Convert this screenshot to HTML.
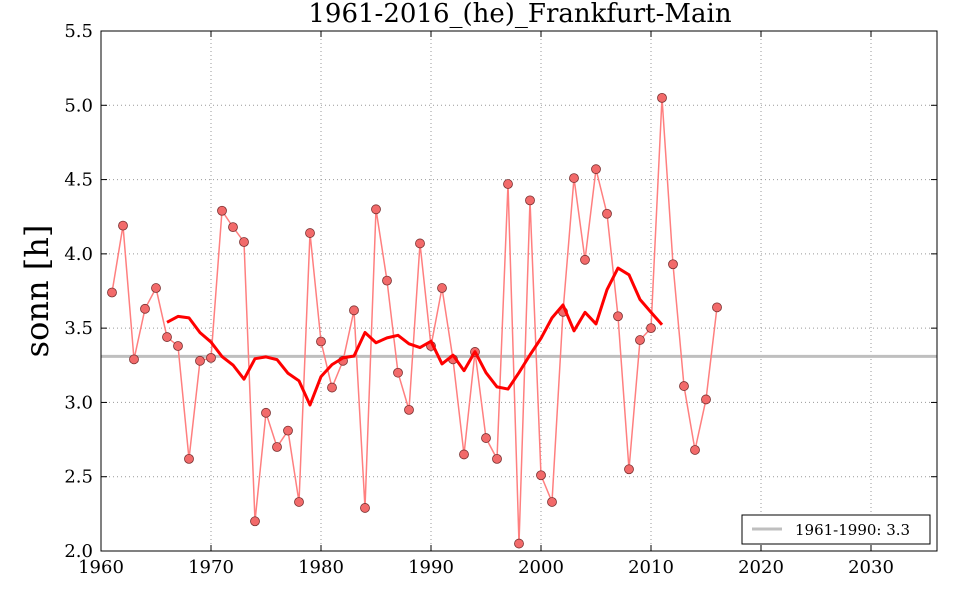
<!DOCTYPE html>
<html><head><meta charset="utf-8"><style>
body{margin:0;background:#fff}
svg text{font-family:"DejaVu Serif","Liberation Serif",serif;fill:#000}
</style></head><body>
<svg id="s" width="960" height="600" xmlns="http://www.w3.org/2000/svg"></svg>
<script>
const d=[3.74,4.19,3.29,3.63,3.77,3.44,3.38,2.62,3.28,3.30,4.29,4.18,4.08,2.20,2.93,2.70,2.81,2.33,4.14,3.41,3.10,3.28,3.62,2.29,4.30,3.82,3.20,2.95,4.07,3.38,3.77,3.29,2.65,3.34,2.76,2.62,4.47,2.05,4.36,2.51,2.33,3.61,4.51,3.96,4.57,4.27,3.58,2.55,3.42,3.50,5.05,3.93,3.11,2.68,3.02,3.64];
const X=y=>101+(y-1960)*11, Y=v=>551-(v-2)*148.57;
let h='';
// grid
for(let y=1970;y<=2030;y+=10)h+=`<line x1="${X(y)}" y1="31" x2="${X(y)}" y2="551" stroke="#999" stroke-dasharray="1,3"/>`;
for(let v=2.5;v<5.5;v+=0.5)h+=`<line x1="101" y1="${Y(v)}" x2="937" y2="${Y(v)}" stroke="#999" stroke-dasharray="1,3"/>`;
// baseline
h+=`<line x1="101" y1="${Y(3.31)}" x2="937" y2="${Y(3.31)}" stroke="#bfbfbf" stroke-width="3"/>`;
// data
let p=d.map((v,i)=>X(1961+i)+','+Y(v)).join(' ');
h+=`<polyline points="${p}" fill="none" stroke="#ff7f7f" stroke-width="1.5"/>`;
d.forEach((v,i)=>h+=`<circle cx="${X(1961+i)}" cy="${Y(v)}" r="4.5" fill="#f26a6a" stroke="#7a3030" stroke-width="0.8"/>`);
// moving average
let m=[];for(let i=5;i<d.length-5;i++){let s=0;for(let k=-5;k<=5;k++)s+=d[i+k];m.push(X(1961+i)+','+Y(s/11));}
h+=`<polyline points="${m.join(' ')}" fill="none" stroke="#ff0000" stroke-width="3" stroke-linejoin="round"/>`;
// frame
h+=`<rect x="101" y="31" width="836" height="520" fill="none" stroke="#000" stroke-width="1"/>`;
// ticks
for(let y=1960;y<=2035;y+=10){h+=`<line x1="${X(y)}" y1="551" x2="${X(y)}" y2="545" stroke="#000"/><line x1="${X(y)}" y1="31" x2="${X(y)}" y2="37" stroke="#000"/><text x="${X(y)}" y="573" font-size="18" text-anchor="middle">${y}</text>`;}
for(let v=2;v<=5.5;v+=0.5){h+=`<line x1="101" y1="${Y(v)}" x2="107" y2="${Y(v)}" stroke="#000"/><line x1="937" y1="${Y(v)}" x2="931" y2="${Y(v)}" stroke="#000"/><text x="93" y="${Y(v)+6}" font-size="18" text-anchor="end">${v.toFixed(1)}</text>`;}
h+=`<text x="520" y="22" font-size="26" text-anchor="middle">1961-2016_(he)_Frankfurt-Main</text>`;
h+=`<text transform="translate(48,291) rotate(-90)" font-size="32" text-anchor="middle">sonn [h]</text>`;
// legend
h+=`<rect x="742" y="515" width="188" height="29" fill="#fff" stroke="#000"/><line x1="752" y1="529" x2="782" y2="529" stroke="#bfbfbf" stroke-width="3"/><text x="795" y="535" font-size="15">1961-1990: 3.3</text>`;
document.getElementById('s').innerHTML=h;
</script>
</body></html>
